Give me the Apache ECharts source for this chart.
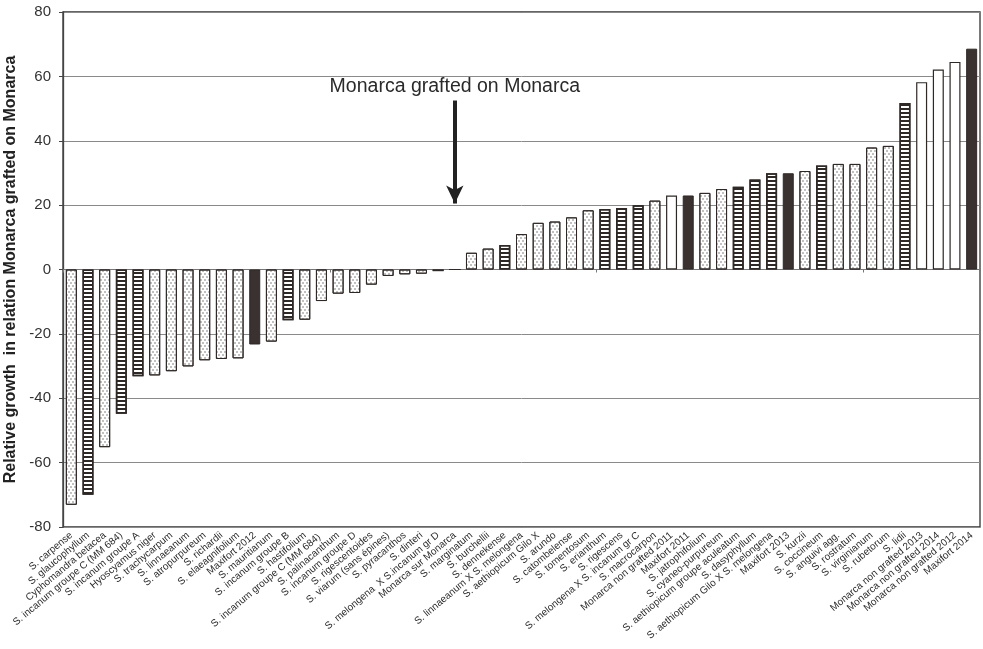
<!DOCTYPE html>
<html>
<head>
<meta charset="utf-8">
<script src="https://cdn.jsdelivr.net/npm/echarts@6/dist/echarts.min.js"></script>
<style>
html,body{margin:0;padding:0;background:#fff;}
#chart{width:983px;height:649px;}
</style>
</head>
<body>
<div id="chart"></div>
<script>
const categories = [
  'S. carpense','S. glaucophyllum','Cyphomandra betacea','S. incanum groupe C (MM 684)','S. incanum groupe A',
  'Hyoscyamus niger','S. trachycarpum','S. linnaeanum','S. atropurpureum','S. richardii',
  'S. elaeagnifolium','Maxifort 2012','S. mauritianum','S. incanum groupe B','S. hastifolium',
  'S. incanum groupe C (MM 684) ','S. palinacanthum','S. incanum groupe D','S. rigescentoides','S. viarum (sans épines)',
  'S. pyracanthos','S. dinteri','S. melongena  X S.incanum gr D','Monarca sur Monarca','S. marginatum',
  'S. burchellii','S. dennekense','S. linnaeanum X S. melongena','S. aethiopicum Gilo X','S. arundo',
  'S. catombelense','S. tomentosum','S. erianthum','S. rigescens','S. melongena X S. incanum gr C',
  'S. macrocarpon','Monarca non grafted 2011','Maxifort 2011','S. jatrophifolium','S. cyaneo-purpureum',
  'S. aethiopicum groupe aculeatum','S. dasyphyllum','S. aethiopicum Gilo X S. melongena','Maxifort 2013','S. kurzii',
  'S. coccineum','S. anguivi agg.','S. rostratum','S. virginianum','S. rubetorum',
  'S. lidii','Monarca non grafted 2013','Monarca non grafted 2014','Monarca non grafted 2012','Maxifort 2014'
];
const values = [
  -73.1,-70.0,-55.2,-44.8,-33.2,
  -32.9,-31.6,-30.1,-28.2,-27.8,
  -27.6,-23.3,-22.4,-15.8,-15.6,
  -9.8,-7.5,-7.3,-4.7,-2.0,
  -1.5,-1.3,-0.5,0,5.2,
  6.5,7.6,11.0,14.5,14.9,
  16.2,18.4,18.8,19.1,20.0,
  21.4,23.0,23.0,23.8,25.0,
  25.7,28.0,29.9,29.9,30.6,
  32.3,32.8,32.8,37.9,38.4,
  51.7,58.2,62.1,64.5,68.6
];
// D = dotted, S = striped, B = black, W = white
const groups = [
  'D','S','D','S','S',
  'D','D','D','D','D',
  'D','B','D','S','D',
  'D','D','D','D','D',
  'D','D','S','D','D',
  'D','S','D','D','D',
  'D','D','S','S','S',
  'D','W','B','D','D',
  'S','S','S','B','D',
  'S','D','D','D','D',
  'S','W','W','W','B'
];
const yTicks = {min:-80, max:80, interval:20};
const annotationText = 'Monarca grafted on Monarca';
const annotationCategory = 'Monarca sur Monarca';
const arrowFrom = 52.5, arrowTo = 20.5;

const FONT = '"Liberation Sans", Arial, sans-serif';
const DARK = '#2e2826';

const styles = {
  D: {color:'#ffffff', borderColor:DARK, borderWidth:1,
      decal:{symbol:'circle', symbolSize:0.7, color:'#555', dashArrayX:[[1.6,1.6],[0,1.6,1.6,0]], dashArrayY:[1.6,1.0], rotation:0}},
  S: {color:'#ffffff', borderColor:DARK, borderWidth:1.5,
      decal:{symbol:'rect', symbolSize:1, color:DARK, dashArrayX:[1,0], dashArrayY:[2,1.6], rotation:0}},
  B: {color:'#3a3230', borderColor:DARK, borderWidth:1},
  W: {color:'#ffffff', borderColor:DARK, borderWidth:1.2}
};

const series = ['D','S','B','W'].map(function(g, k){
  const s = {
    name: g, type:'bar', stack:'all', barWidth:11,
    xAxisIndex:0, yAxisIndex:0,
    itemStyle: styles[g],
    emphasis:{disabled:true},
    data: values.map(function(v,i){ return groups[i]===g ? v : '-'; })
  };
  if (k === 0) {
    s.markLine = {
      silent:true,
      symbol:['none','arrow'],
      symbolSize:[13,18],
      lineStyle:{color:'#222', width:4, type:'solid'},
      label:{show:true, position:'start', formatter:annotationText, color:'#2a2a2a',
             fontSize:19.5, fontFamily:FONT, distance:4},
      data:[[
        {coord:[annotationCategory, arrowFrom]},
        {coord:[annotationCategory, arrowTo]}
      ]]
    };
  }
  return s;
});

const chart = echarts.init(document.getElementById('chart'), null, {renderer:'canvas'});
chart.setOption({
  animation:false,
  backgroundColor:'#ffffff',
  grid:{left:63, right:3, top:12, bottom:122, show:true, borderColor:'#333', borderWidth:1.3,
        backgroundColor:'transparent', containLabel:false, outerBoundsMode:'none'},
  xAxis:[
    {type:'category', data:categories, position:'bottom',
     axisLine:{show:false, onZero:false}, axisTick:{show:false},
     axisLabel:{interval:0, rotate:40, fontSize:10, color:'#2a2a2a', fontFamily:FONT, margin:7}},
    {type:'category', data:categories, position:'bottom',
     axisLine:{show:true, onZero:true, lineStyle:{color:'#777', width:1}},
     axisTick:{show:true, length:3, lineStyle:{color:'#777'}},
     axisLabel:{show:false}}
  ],
  yAxis:{type:'value', min:yTicks.min, max:yTicks.max, interval:yTicks.interval,
    name:'Relative growth  in relation Monarca grafted on Monarca',
    nameLocation:'middle', nameGap:39,
    nameTextStyle:{fontSize:16, fontWeight:'bold', color:'#222', fontFamily:FONT},
    axisLine:{show:true, lineStyle:{color:'#444', width:1.3}},
    axisTick:{show:true, length:4, lineStyle:{color:'#444'}},
    axisLabel:{fontSize:15, color:'#333', fontFamily:FONT, margin:12},
    splitLine:{show:true, lineStyle:{color:'#8a8a8a', width:1}}
  },
  series: series
});
</script>
</body>
</html>
